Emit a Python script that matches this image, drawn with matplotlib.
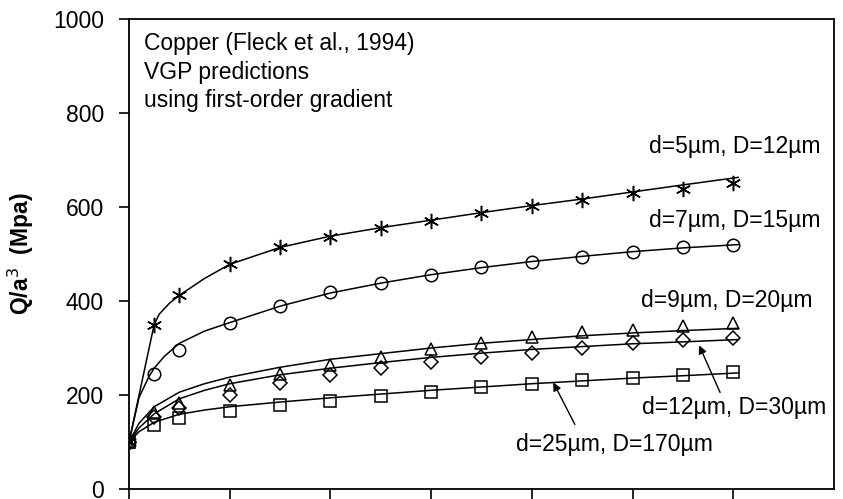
import matplotlib
matplotlib.use("Agg")
import matplotlib.pyplot as plt

plt.rcParams['font.family'] = ['Liberation Sans', 'DejaVu Sans']

# measured points (same loading steps for every specimen)
x_pts = [0, 0.25, 0.5, 1, 1.5, 2, 2.5, 3, 3.5, 4, 4.5, 5, 5.5, 6]
star_pts = [100, 348, 413, 479, 514, 536, 555, 571, 588, 603, 615, 629, 638, 650]
circle_pts = [100, 245, 296, 353, 389, 420, 439, 455, 472, 483, 493, 504, 514, 519]
tri_pts = [100, 164, 182, 221, 245, 264, 281, 298, 311, 323, 333, 338, 347, 354]
diam_pts = [100, 153, 172, 200, 225, 243, 257, 271, 281, 290, 299, 310, 317, 321]
sq_pts = [100, 136, 151, 166, 179, 188, 198, 206, 216, 223, 231, 236, 243, 249]

# VGP prediction curves
star_cx = [0, 0.25, 0.3, 0.4, 0.5, 0.75, 1, 1.5, 2, 2.5, 3, 3.5, 4, 4.5, 5, 5.5, 6.05]
star_cy = [100, 350, 372, 395, 412, 448, 478, 514, 538, 556, 572, 588, 603, 617, 632, 647, 663]
circle_cx = [0, 0.1, 0.2, 0.25, 0.35, 0.5, 0.75, 1, 1.5, 2, 2.5, 3, 3.5, 4, 4.5, 5, 5.5, 6.05]
circle_cy = [100, 195, 240, 257, 282, 310, 336, 354, 389, 417, 438, 456, 471, 484, 495, 505, 513, 520]
tri_cx = [0, 0.1, 0.25, 0.5, 0.75, 1, 1.5, 2, 2.5, 3, 3.5, 4, 4.5, 5, 5.5, 6.05]
tri_cy = [100, 140, 175, 206, 224, 238, 259, 276, 288, 300, 310, 318, 326, 332, 337, 342]
diam_cx = [0, 0.1, 0.25, 0.5, 0.75, 1, 1.5, 2, 2.5, 3, 3.5, 4, 4.5, 5, 5.5, 6.05]
diam_cy = [100, 130, 160, 192, 210, 224, 243, 257, 269, 280, 289, 297, 303, 309, 313, 318]
sq_cx = [0, 0.1, 0.25, 0.5, 0.75, 1, 1.5, 2, 2.5, 3, 3.5, 4, 4.5, 5, 5.5, 6.05]
sq_cy = [100, 122, 142, 159, 168, 175, 185, 194, 202, 210, 217, 224, 230, 236, 241, 247]

fig = plt.figure(figsize=(8.43, 4.99), dpi=100)
ax = fig.add_axes([129 / 843, 10 / 499, 705 / 843, 470 / 499])

series = [
    (star_cx, star_cy, star_pts, (6, 2, 0), 11),
    (circle_cx, circle_cy, circle_pts, 'o', 9),
    (tri_cx, tri_cy, tri_pts, '^', 9),
    (diam_cx, diam_cy, diam_pts, 'D', 7.5),
    (sq_cx, sq_cy, sq_pts, 's', 8.5),
]
for cx, cy, pts, mk, ms in series:
    ax.plot(cx, cy, color='black', lw=1.1, zorder=2)
    ax.plot(x_pts, pts, linestyle='none', marker=mk, markersize=ms,
            markerfacecolor='none', markeredgecolor='black', markeredgewidth=1.1, zorder=3)

ax.set_xlim(0, 7)
ax.set_ylim(0, 1000)
ax.set_xticks(range(0, 7))
ax.set_xticklabels([])
ax.set_yticks(range(0, 1001, 200))
ax.tick_params(axis='both', direction='out', length=7, width=1.2, labelsize=16.5, pad=11)
for s in ax.spines.values():
    s.set_linewidth(1.3)

ax.set_ylabel('Q/a$^3$  (Mpa)', fontsize=16.5, fontweight='bold', labelpad=12)

ax.text(0.021, 0.972, 'Copper (Fleck et al., 1994)\nVGP predictions\nusing first-order gradient',
        transform=ax.transAxes, ha='left', va='top', fontsize=16.5, linespacing=1.3)

fs = 16.5
ax.text(5.16, 728, 'd=5\u00b5m, D=12\u00b5m', ha='left', va='center', fontsize=fs)
ax.text(5.16, 572, 'd=7\u00b5m, D=15\u00b5m', ha='left', va='center', fontsize=fs)
ax.text(5.08, 402, 'd=9\u00b5m, D=20\u00b5m', ha='left', va='center', fontsize=fs)
ax.text(5.09, 174, 'd=12\u00b5m, D=30\u00b5m', ha='left', va='center', fontsize=fs)
ax.annotate('', xy=(5.65, 311), xytext=(5.88, 200),
            arrowprops=dict(arrowstyle='-|>', color='black', lw=1, mutation_scale=12))
ax.text(3.84, 94, 'd=25\u00b5m, D=170\u00b5m', ha='left', va='center', fontsize=fs)
ax.annotate('', xy=(4.20, 232), xytext=(4.44, 132),
            arrowprops=dict(arrowstyle='-|>', color='black', lw=1, mutation_scale=12))

fig.savefig('out.png', dpi=100)
